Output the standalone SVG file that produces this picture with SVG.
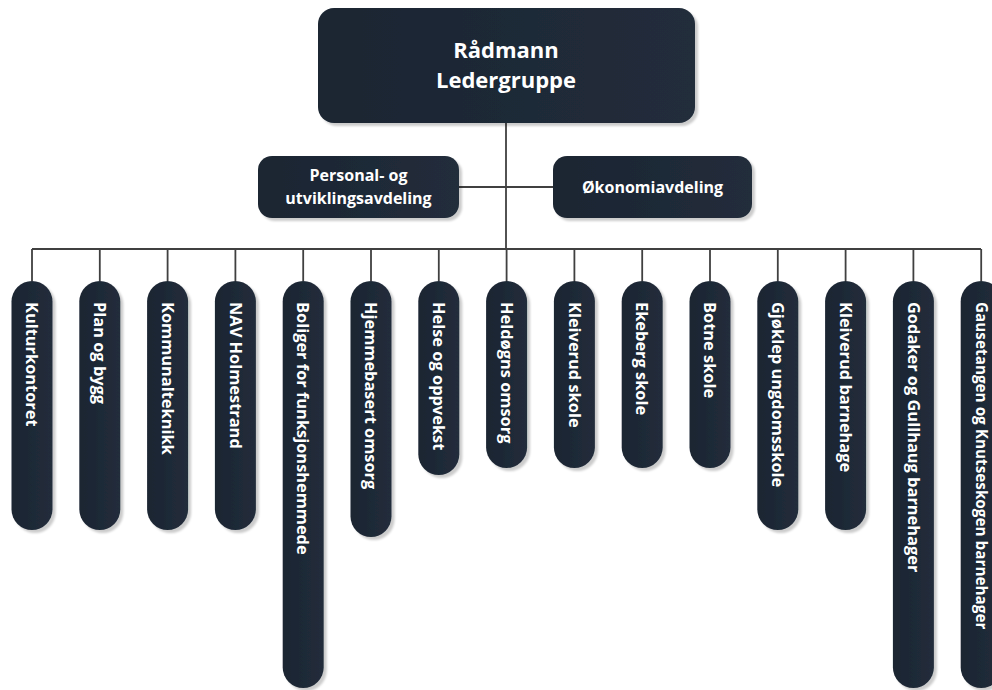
<svg xmlns="http://www.w3.org/2000/svg" width="992" height="690" viewBox="0 0 992 690">
<style>
.box{fill:url(#g);filter:url(#sh)}
.t{fill:#ffffff;font-family:"Open Sans","DejaVu Sans",sans-serif;font-weight:bold}
.top{font-size:22px;text-anchor:middle}
.mid{font-size:16px;text-anchor:middle}
.v{font-size:16.4px}
.ln{stroke:#404040;stroke-width:1.8;fill:none}
</style>
<defs>
<linearGradient id="g" x1="0" y1="0" x2="1" y2="0">
<stop offset="0" stop-color="#1b2532"/>
<stop offset="1" stop-color="#222d3b"/>
</linearGradient>
<filter id="sh" x="-20%" y="-20%" width="150%" height="150%">
<feDropShadow dx="3" dy="3" stdDeviation="1.2" flood-color="#000" flood-opacity="0.2"/>
</filter>
</defs>
<g id="connectors">
<path class="ln" d="M506,123 V249 M459,187 H553 M32,249 H981"/>
<path class="ln" d="M32,249V281 M99.8,249V281 M167.6,249V281 M235.4,249V281 M303.2,249V281 M371,249V281 M438.8,249V281 M506.6,249V281 M574.4,249V281 M642.2,249V281 M710,249V281 M777.8,249V281 M845.6,249V281 M913.4,249V281 M981.2,249V281"/>
</g>
<g id="radmann">
<rect class="box" x="318" y="8" width="377" height="115" rx="16"/>
<text class="t top" x="506" y="58">Rådmann</text>
<text class="t top" x="506" y="88">Ledergruppe</text>
</g>
<g id="personal">
<rect class="box" x="258" y="156" width="201" height="62" rx="14"/>
<text class="t mid" x="358.5" y="181">Personal- og</text>
<text class="t mid" x="358.5" y="204">utviklingsavdeling</text>
</g>
<g id="okonomi">
<rect class="box" x="553" y="156" width="199" height="62" rx="14"/>
<text class="t mid" x="652.5" y="193">Økonomiavdeling</text>
</g>
<g id="n1"><rect class="box" x="11.5" y="281" width="41" height="249" rx="20.5"/><text class="t v" transform="translate(32,302) rotate(90)" y="0.35em">Kulturkontoret</text></g>
<g id="n2"><rect class="box" x="79.3" y="281" width="41" height="249" rx="20.5"/><text class="t v" transform="translate(99.8,302) rotate(90)" y="0.35em">Plan og bygg</text></g>
<g id="n3"><rect class="box" x="147.1" y="281" width="41" height="249" rx="20.5"/><text class="t v" transform="translate(167.6,302) rotate(90)" y="0.35em">Kommunalteknikk</text></g>
<g id="n4"><rect class="box" x="214.9" y="281" width="41" height="249" rx="20.5"/><text class="t v" transform="translate(235.4,302) rotate(90)" y="0.35em">NAV Holmestrand</text></g>
<g id="n5"><rect class="box" x="282.7" y="281" width="41" height="407" rx="20.5"/><text class="t v" transform="translate(303.2,302) rotate(90)" y="0.35em">Boliger for funksjonshemmede</text></g>
<g id="n6"><rect class="box" x="350.5" y="281" width="41" height="256" rx="20.5"/><text class="t v" transform="translate(371,302) rotate(90)" y="0.35em">Hjemmebasert omsorg</text></g>
<g id="n7"><rect class="box" x="418.3" y="281" width="41" height="194" rx="20.5"/><text class="t v" transform="translate(438.8,302) rotate(90)" y="0.35em">Helse og oppvekst</text></g>
<g id="n8"><rect class="box" x="486.1" y="281" width="41" height="187" rx="20.5"/><text class="t v" transform="translate(506.6,302) rotate(90)" y="0.35em">Heldøgns omsorg</text></g>
<g id="n9"><rect class="box" x="553.9" y="281" width="41" height="187" rx="20.5"/><text class="t v" transform="translate(574.4,302) rotate(90)" y="0.35em">Kleiverud skole</text></g>
<g id="n10"><rect class="box" x="621.7" y="281" width="41" height="187" rx="20.5"/><text class="t v" transform="translate(642.2,302) rotate(90)" y="0.35em">Ekeberg skole</text></g>
<g id="n11"><rect class="box" x="689.5" y="281" width="41" height="187" rx="20.5"/><text class="t v" transform="translate(710,302) rotate(90)" y="0.35em">Botne skole</text></g>
<g id="n12"><rect class="box" x="757.3" y="281" width="41" height="249" rx="20.5"/><text class="t v" transform="translate(777.8,302) rotate(90)" y="0.35em">Gjøklep ungdomsskole</text></g>
<g id="n13"><rect class="box" x="825.1" y="281" width="41" height="249" rx="20.5"/><text class="t v" transform="translate(845.6,302) rotate(90)" y="0.35em">Kleiverud barnehage</text></g>
<g id="n14"><rect class="box" x="892.9" y="281" width="41" height="407" rx="20.5"/><text class="t v" transform="translate(913.4,302) rotate(90)" y="0.35em">Godaker og Gullhaug barnehager</text></g>
<g id="n15"><rect class="box" x="960.7" y="281" width="41" height="407" rx="20.5"/><text class="t v" transform="translate(981.2,302) rotate(90)" y="0.35em" style="font-size:15.3px">Gausetangen og Knutseskogen barnehager</text></g>
</svg>
